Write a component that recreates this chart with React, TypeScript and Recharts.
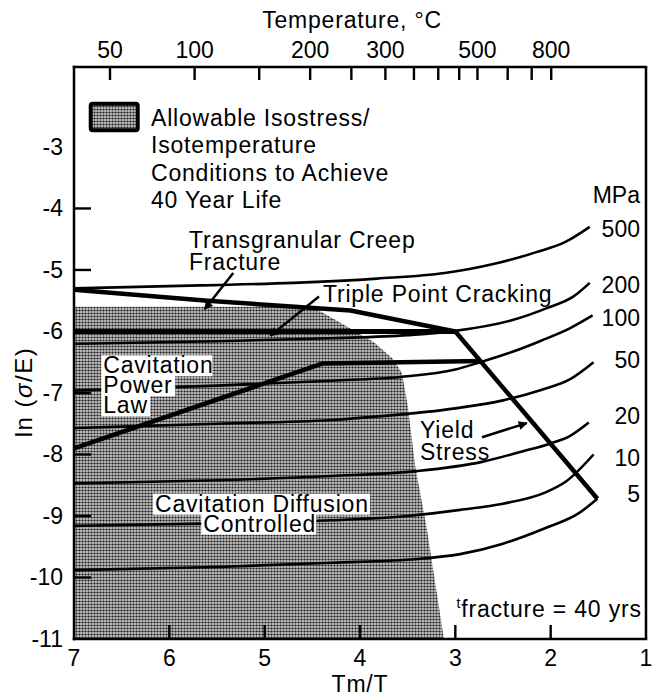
import React from 'react';
import { ComposedChart, Line, Area, XAxis, YAxis, ReferenceLine, ReferenceDot } from 'recharts';

const FONT = '"Liberation Sans", Arial, Helvetica, sans-serif';
const FS = 23;
const LS = 0.8;

// Bottom axis: Tm/T
const xMin = 1;
const xMax = 7;
const xTicks = [7, 6, 5, 4, 3, 2, 1];
const xTickMarks = [6, 5, 4, 3, 2];
// Left axis: ln(sigma/E)
const yMin = -11;
const yMax = -1.7;
const yTicks = [-3, -4, -5, -6, -7, -8, -9, -10, -11];
const yTickMarks = [-4, -5, -6, -7, -8, -9, -10];
// Top axis: temperature in °C (melting point in K)
const meltingPointK = 2140;
const tempTicksC = [50, 100, 150, 200, 250, 300, 350, 400, 450, 500, 600, 700, 800];
const tempLabelsC = [50, 100, 200, 300, 500, 800];
const tempToX = (t: number) => meltingPointK / (t + 273.15);

// Isostress curves [Tm/T, ln(sigma/E)]
const iso500 = [[7, -5.3], [5.67, -5.25], [4.7, -5.21], [3.82, -5.14], [3.11, -5.05], [2.59, -4.9], [2.15, -4.71], [1.84, -4.54], [1.59, -4.3]];
const iso200 = [[7, -6.2], [5.5, -6.16], [4.3, -6.11], [3.5, -6.06], [3.0, -5.99], [2.39, -5.81], [2.04, -5.62], [1.76, -5.43], [1.59, -5.21]];
const iso100 = [[7, -6.96], [5.5, -6.88], [4.3, -6.8], [3.58, -6.74], [3.0, -6.62], [2.74, -6.5], [2.4, -6.33], [2.1, -6.15], [1.8, -5.95], [1.56, -5.74]];
const iso50 = [[7, -7.57], [5.5, -7.5], [4.3, -7.44], [3.8, -7.38], [3.0, -7.25], [2.5, -7.12], [2.1, -6.95], [1.8, -6.78], [1.55, -6.5]];
const iso20 = [[7, -8.47], [5.5, -8.42], [4.3, -8.35], [3.4, -8.27], [2.72, -8.12], [2.3, -7.95], [2.0, -7.82], [1.8, -7.7], [1.6, -7.48]];
const iso10 = [[7, -9.16], [5.5, -9.12], [4.3, -9.07], [3.5, -9.0], [2.95, -8.9], [2.5, -8.8], [2.06, -8.62], [1.84, -8.44], [1.55, -8.0]];
const iso5 = [[7, -9.88], [5.5, -9.83], [4.3, -9.76], [3.4, -9.7], [2.95, -9.62], [2.5, -9.45], [2.06, -9.2], [1.7, -8.95], [1.51, -8.72]];

// Field boundaries
const transgranularYield = [[7, -5.32], [5.6, -5.5], [4.1, -5.66], [3.0, -6.0], [1.51, -8.72]];
const triplePointBoundary = [[7, -6.0], [3.0, -6.0]];
const powerLawBoundary = [[7, -7.9], [4.39, -6.52], [2.74, -6.48]];

// Allowable region (shaded), upper edge
const allowableRegion = [[7, -5.6], [4.5, -5.6], [4.1, -5.95], [3.85, -6.18], [3.65, -6.45], [3.56, -6.68], [3.5, -7.2], [3.42, -8.2], [3.3, -9.2], [3.2, -10.2], [3.12, -11]];

// Arrows [from, to]
const arrowTransgranular = [[5.33, -5.05], [5.63, -5.64]];
const arrowTriple = [[4.43, -5.43], [4.94, -6.07]];
const arrowYield = [[2.72, -7.72], [2.25, -7.49]];

// MPa labels at right
const mpaLabels = ['MPa', '500', '200', '100', '50', '20', '10', '5'];
const mpaLabelY = [-3.916, -4.469, -5.379, -5.916, -6.599, -7.509, -8.192, -8.777];
const mpaLabelX = 1.063;

// plot box size in px (for converting inward tick sizes into axis units)
const PLOT_W = 572;
const PLOT_H = 572;
const unitX = (px: number) => (px * (xMax - xMin)) / PLOT_W;
const unitY = (px: number) => (px * (yMax - yMin)) / PLOT_H;

const toPts = (a: number[][]) => a.map(([x, y]) => ({ x, y }));

const lineDefs = [
  { id: 'iso500', pts: iso500, w: 2.6, type: 'monotone' },
  { id: 'iso200', pts: iso200, w: 2.6, type: 'monotone' },
  { id: 'iso100', pts: iso100, w: 2.6, type: 'monotone' },
  { id: 'iso50', pts: iso50, w: 2.6, type: 'monotone' },
  { id: 'iso20', pts: iso20, w: 2.6, type: 'monotone' },
  { id: 'iso10', pts: iso10, w: 2.6, type: 'monotone' },
  { id: 'iso5', pts: iso5, w: 2.6, type: 'monotone' },
  { id: 'tgy', pts: transgranularYield, w: 4.5, type: 'linear' },
  { id: 'tpb', pts: triplePointBoundary, w: 5, type: 'linear' },
  { id: 'plb', pts: powerLawBoundary, w: 4.5, type: 'linear' },
];

// inward tick marks as short line series, slightly inset from the frame
const tickSegs = [
  ...yTickMarks.map((v) => ({ id: `yt${v}`, pts: [[xMax - unitX(0.5), v], [xMax - unitX(17), v]] })),
  ...xTickMarks.map((v) => ({ id: `xt${v}`, pts: [[v, yMin + unitY(0.5)], [v, yMin + unitY(14)]] })),
  ...tempTicksC.map((t) => ({ id: `tt${t}`, pts: [[tempToX(t), yMax - unitY(0.5)], [tempToX(t), yMax - unitY(13)]] })),
];

const arrowDefs = [
  { id: 'a1', pts: arrowTransgranular },
  { id: 'a2', pts: arrowTriple },
  { id: 'a3', pts: arrowYield },
];

type Ann = { id: string; x: number; y: number; lines: string[]; lh: number; bg?: number[] };
const annotations: Ann[] = [
  { id: 'tg', x: 5.794, y: -4.643, lines: ['Transgranular Creep', 'Fracture'], lh: 22 },
  { id: 'tp', x: 4.388, y: -5.521, lines: ['Triple Point Cracking'], lh: 22 },
  { id: 'cpl', x: 6.693, y: -6.68, lines: ['Cavitation', 'Power', 'Law'], lh: 20, bg: [111, 74, 49] },
  { id: 'cd', x: 6.15, y: -8.93, lines: ['Cavitation Diffusion'], lh: 20, bg: [217] },
  { id: 'cc', x: 5.644, y: -9.255, lines: ['Controlled'], lh: 20, bg: [115] },
  { id: 'ys', x: 3.371, y: -7.737, lines: ['Yield', 'Stress'], lh: 22 },
];
const legendAnchor = { x: 6.192, y: -2.659 };
const legendLines = ['Allowable Isostress/', 'Isotemperature', 'Conditions to Achieve', '40 Year Life'];
const fractureAnchor = { x: 1.045, y: -10.65 };

const textProps = { fontSize: FS, fontFamily: FONT, fill: '#000', letterSpacing: LS };

const BottomTick = (p: any) => {
  const { x, y, payload } = p;
  return (
    <text x={x} y={y + 27} textAnchor="middle" fontSize={FS} fontFamily={FONT} fill="#000">{payload.value}</text>
  );
};

const TopTick = (p: any) => {
  const { x, y, payload } = p;
  const T = Math.round(meltingPointK / payload.value - 273.15);
  if (!tempLabelsC.includes(T)) return <g />;
  return (
    <text x={x} y={y - 9} textAnchor="middle" fontSize={FS} fontFamily={FONT} fill="#000">{T}</text>
  );
};

const LeftTick = (p: any) => {
  const { x, y, payload } = p;
  return (
    <text x={x - 11} y={y + 8} textAnchor="end" fontSize={FS} fontFamily={FONT} fill="#000">{payload.value}</text>
  );
};

const axisLine = { stroke: '#000', strokeWidth: 2.5, strokeLinecap: 'square' as const };

export default function App() {
  return (
    <div style={{ position: 'absolute', left: 0, top: 0, width: 657, height: 697, background: '#fff' }}>
      <ComposedChart width={657} height={697} margin={{ top: 27, right: 11, bottom: 18, left: 14 }}>
        <defs>
          <pattern id="stipple" width="3" height="3" patternUnits="userSpaceOnUse">
            <rect width="3" height="3" fill="#c2c2c2" />
            <circle cx="1.5" cy="1.5" r="1.1" fill="#1a1a1a" />
          </pattern>
          <marker id="arrowHead" viewBox="0 0 10 10" refX="9" refY="5" markerWidth="13" markerHeight="9" orient="auto" markerUnits="userSpaceOnUse">
            <path d="M0,0 L10,5 L0,10 z" fill="#000" />
          </marker>
        </defs>
        <XAxis
          dataKey="x"
          type="number"
          domain={[xMin, xMax]}
          reversed
          allowDataOverflow
          ticks={xTicks}
          interval={0}
          height={40}
          tickSize={0}
          tickMargin={0}
          tickLine={false}
          axisLine={axisLine}
          tick={BottomTick}
          label={(props: any) => {
            const vb = props.viewBox;
            return (
              <text x={vb.x + vb.width / 2} y={vb.y + 53} textAnchor="middle" {...textProps}>Tm/T</text>
            );
          }}
        />
        <XAxis
          xAxisId="top"
          orientation="top"
          dataKey="x"
          type="number"
          domain={[xMin, xMax]}
          reversed
          allowDataOverflow
          ticks={tempTicksC.map(tempToX)}
          interval={0}
          height={40}
          tickSize={0}
          tickMargin={0}
          tickLine={false}
          axisLine={axisLine}
          tick={TopTick}
          label={(props: any) => {
            const vb = props.viewBox;
            return (
              <text x={vb.x + vb.width / 2 - 8} y={vb.y + 1} textAnchor="middle" {...textProps}>Temperature, °C</text>
            );
          }}
        />
        <YAxis
          type="number"
          domain={[yMin, yMax]}
          allowDataOverflow
          ticks={yTicks}
          interval={0}
          width={60}
          tickSize={0}
          tickMargin={0}
          tickLine={false}
          axisLine={axisLine}
          tick={LeftTick}
          label={(props: any) => {
            const vb = props.viewBox;
            const cx = vb.x + 9;
            const cy = vb.y + 325;
            return (
              <text x={cx} y={cy} transform={`rotate(-90, ${cx}, ${cy})`} textAnchor="middle" dominantBaseline="central" fontSize={24} fontFamily={FONT} fill="#000" letterSpacing={1.5}>
                ln (<tspan fontStyle="italic">σ</tspan>/E)
              </text>
            );
          }}
        />
        <Area
          data={toPts(allowableRegion)}
          dataKey="y"
          type="linear"
          baseValue={yMin}
          stroke="none"
          fill="url(#stipple)"
          fillOpacity={1}
          isAnimationActive={false}
          dot={false}
          activeDot={false}
        />
        {lineDefs.map((l) => (
          <Line
            key={l.id}
            data={toPts(l.pts)}
            dataKey="y"
            type={l.type as any}
            stroke="#000"
            strokeWidth={l.w}
            strokeLinejoin="round"
            dot={false}
            activeDot={false}
            isAnimationActive={false}
          />
        ))}
        {arrowDefs.map((a) => (
          <Line
            key={a.id}
            data={toPts(a.pts)}
            dataKey="y"
            type="linear"
            stroke="#000"
            strokeWidth={2.5}
            markerEnd="url(#arrowHead)"
            dot={false}
            activeDot={false}
            isAnimationActive={false}
          />
        ))}
        {tickSegs.map((t) => (
          <Line
            key={t.id}
            data={toPts(t.pts)}
            dataKey="y"
            type="linear"
            stroke="#000"
            strokeWidth={2.4}
            strokeLinecap="butt"
            dot={false}
            activeDot={false}
            isAnimationActive={false}
          />
        ))}
        <ReferenceLine x={1} stroke="#000" strokeWidth={2.5} />
        <ReferenceDot
          x={legendAnchor.x}
          y={legendAnchor.y}
          r={0}
          shape={(p: any) => (
            <g>
              <rect x={p.cx - 60.3} y={p.cy - 22.3} width={47} height={26.6} rx={2} fill="url(#stipple)" stroke="#000" strokeWidth={4} />
              <text {...textProps}>
                {legendLines.map((s, i) => (
                  <tspan key={i} x={p.cx} y={p.cy + i * 27.5}>{s}</tspan>
                ))}
              </text>
            </g>
          )}
        />
        {annotations.map((a) => (
          <ReferenceDot
            key={a.id}
            x={a.x}
            y={a.y}
            r={0}
            shape={(p: any) => (
              <g>
                {a.bg &&
                  a.bg.map((w, i) => (
                    <rect key={i} x={p.cx - 2} y={p.cy + i * a.lh - 18} width={w} height={a.lh + 1} fill="#fff" />
                  ))}
                <text {...textProps}>
                  {a.lines.map((s, i) => (
                    <tspan key={i} x={p.cx} y={p.cy + i * a.lh}>{s}</tspan>
                  ))}
                </text>
              </g>
            )}
          />
        ))}
        {mpaLabels.map((s, i) => (
          <ReferenceDot
            key={s}
            x={mpaLabelX}
            y={mpaLabelY[i]}
            r={0}
            shape={(p: any) => (
              <text x={p.cx} y={p.cy} textAnchor="end" fontSize={FS} fontFamily={FONT} fill="#000">{s}</text>
            )}
          />
        ))}
        <ReferenceDot
          x={fractureAnchor.x}
          y={fractureAnchor.y}
          r={0}
          shape={(p: any) => (
            <text x={p.cx} y={p.cy} textAnchor="end" {...textProps}>
              <tspan fontSize={14} dy={-9}>t</tspan>
              <tspan dy={9}>fracture = 40 yrs</tspan>
            </text>
          )}
        />
      </ComposedChart>
    </div>
  );
}
